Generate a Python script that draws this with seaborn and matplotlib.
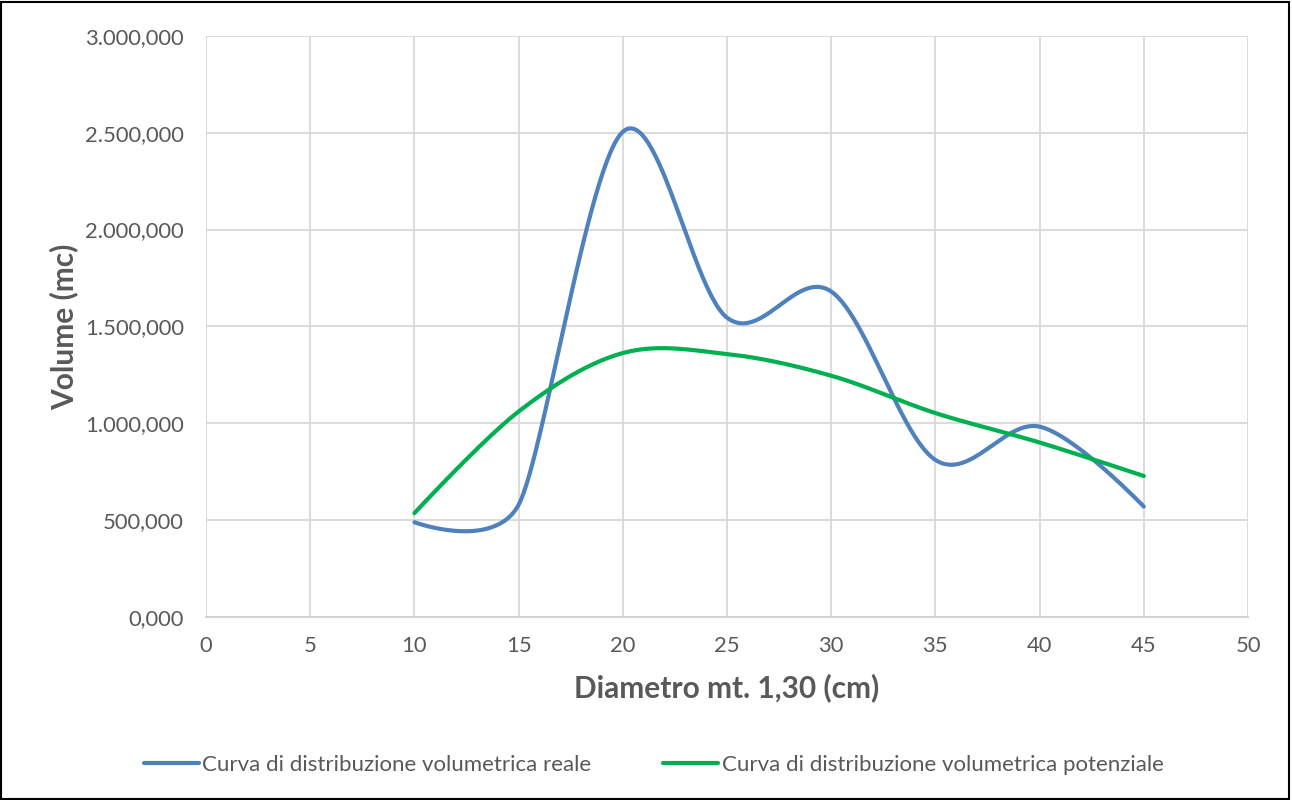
import numpy as np
import pandas as pd
import matplotlib
matplotlib.use("Agg")
import matplotlib.pyplot as plt
import seaborn as sns
from matplotlib.patches import Rectangle

# ---- data ----
diametro = [10, 15, 20, 25, 30, 35, 40, 45]
vol_reale = [488, 578, 2505, 1545, 1680, 810, 982, 569]
vol_potenziale = [535, 1060, 1362, 1357, 1245, 1052, 900, 727]
label_reale = "Curva di distribuzione volumetrica reale"
label_potenziale = "Curva di distribuzione volumetrica potenziale"
x_ticks = [0, 5, 10, 15, 20, 25, 30, 35, 40, 45, 50]
y_ticks = [0, 500, 1000, 1500, 2000, 2500, 3000]
x_label = "Diametro mt. 1,30 (cm)"
y_label = "Volume (mc)"

COL_REALE = "#4f81bd"
COL_POT = "#00b050"
TXT = "#595959"

# pixel scale of the plot area (for Excel-like smoothing distances)
PX_X = 1042 / 50.0
PX_Y = 580.7 / 3000.0


def smooth(xs, ys, n=60):
    """Excel-like smoothed line: Bezier segments, tension 1/6 limited by half segment length."""
    P = np.column_stack([xs, ys]).astype(float)
    S = np.array([PX_X, PX_Y])
    m = len(P)
    cin, cout = [], []
    for i in range(m):
        p0 = P[i - 1] if i > 0 else P[i]
        p1 = P[i]
        p2 = P[i + 1] if i < m - 1 else P[i]
        d01 = np.linalg.norm((p1 - p0) * S)
        d12 = np.linalg.norm((p2 - p1) * S)
        d02 = np.linalg.norm((p2 - p0) * S)
        f = 1.0 / 6.0
        if not (d02 / 6 < d12 / 2 and d02 / 6 < d01 / 2):
            f = min(d01, d12) / (2 * d02) if d02 > 0 else 0.0
        T = p2 - p0
        cin.append(p1 - f * T)
        cout.append(p1 + f * T)
    out = []
    for i in range(m - 1):
        p1, p2 = P[i], P[i + 1]
        c1, c2 = cout[i], cin[i + 1]
        t = np.linspace(0, 1, n, endpoint=(i == m - 2))[:, None]
        seg = ((1 - t) ** 3) * p1 + 3 * ((1 - t) ** 2) * t * c1 + 3 * (1 - t) * t ** 2 * c2 + t ** 3 * p2
        out.append(seg)
    out = np.vstack(out)
    return out[:, 0], out[:, 1]


sns.set_theme(style="whitegrid")
plt.rcParams["font.family"] = ["Lato", "DejaVu Sans"]

fig = plt.figure(figsize=(12.92, 8.0), dpi=100)
ax = fig.add_axes([206 / 1292, 1 - 616.7 / 800, (1248 - 206) / 1292, 580.7 / 800])

rows = []
for lab, ys in [(label_reale, vol_reale), (label_potenziale, vol_potenziale)]:
    sx, sy = smooth(diametro, ys)
    rows.append(pd.DataFrame({"x": sx, "y": sy, "serie": lab}))
df = pd.concat(rows, ignore_index=True)

sns.lineplot(data=df, x="x", y="y", hue="serie", sort=False, estimator=None,
             palette={label_reale: COL_REALE, label_potenziale: COL_POT},
             linewidth=3, ax=ax, legend=True)

ax.set_xlim(0, 50)
ax.set_ylim(0, 3000)
ax.set_xticks(x_ticks)
ax.set_yticks(y_ticks)
ax.set_yticklabels([f"{v:,.3f}".replace(",", "X").replace(".", ",").replace("X", ".") for v in y_ticks])
ax.set_xticklabels([str(v) for v in x_ticks])
ax.tick_params(axis="both", colors=TXT, labelsize=15.8, length=0)
ax.tick_params(axis="x", pad=14)
ax.tick_params(axis="y", pad=16)
ax.grid(True, color="#d9d9d9", linewidth=1.3)
for s in ["top", "right"]:
    ax.spines[s].set_visible(False)
ax.spines["left"].set_visible(False)
ax.spines["bottom"].set_color("#d0d0d0")
ax.spines["bottom"].set_linewidth(1.3)
ax.set_facecolor("white")

ax.set_xlabel(x_label, fontsize=21.5, fontweight="bold", color=TXT, labelpad=12)
ax.set_ylabel(y_label, fontsize=21.5, fontweight="bold", color=TXT, labelpad=5)

leg = ax.legend(loc="center", bbox_to_anchor=(0.4295, -0.255), ncol=2, frameon=False,
                fontsize=16, handlelength=2.5, handletextpad=0.15, columnspacing=3.2)
for t in leg.get_texts():
    t.set_color(TXT)
for h in leg.get_lines():
    h.set_linewidth(3)

fig.patches.append(Rectangle((0.001, 0.001), 0.997, 0.997, transform=fig.transFigure,
                             fill=False, edgecolor="black", linewidth=1.5))

fig.savefig("out.png", dpi=100, facecolor="white")
